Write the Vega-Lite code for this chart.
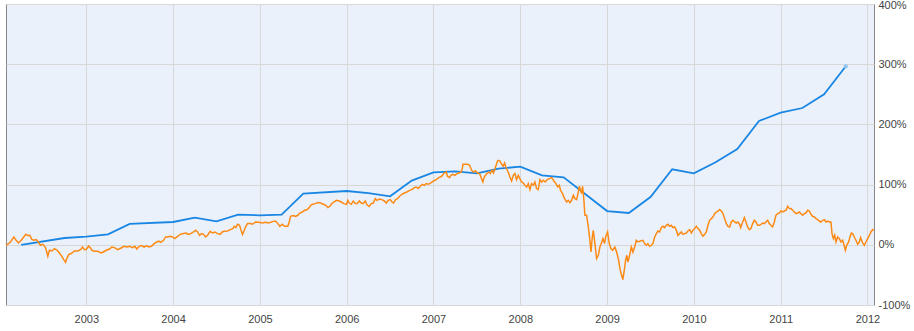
{
  "$schema": "https://vega.github.io/schema/vega-lite/v6.json",
  "width": 868,
  "height": 301,
  "autosize": {"type": "none"},
  "padding": {"left": 6, "top": 4, "right": 40, "bottom": 26},
  "background": "white",
  "config": {
    "view": {"stroke": "#888888", "strokeWidth": 1, "fill": "#eaf1fb"},
    "axis": {"labelFont": "Liberation Sans", "labelFontSize": 11, "labelColor": "#444444", "gridColor": "#d8d8d8", "gridWidth": 1, "domain": false, "ticks": false, "title": null, "labelFlush": false, "labelOverlap": false, "labelBound": false}
  },
  "datasets": {
    "portfolio": [
      {"year": 2002.25, "value": 0}, {"year": 2002.75, "value": 11.3}, {"year": 2003.0, "value": 13.6}, {"year": 2003.25, "value": 17.4}, {"year": 2003.5, "value": 34.6}, {"year": 2004.0, "value": 37.9}, {"year": 2004.25, "value": 45.2}, {"year": 2004.5, "value": 39.0}, {"year": 2004.75, "value": 50.2}, {"year": 2005.0, "value": 49.0}, {"year": 2005.25, "value": 50.2}, {"year": 2005.5, "value": 85.0}, {"year": 2006.0, "value": 89.4}, {"year": 2006.25, "value": 86.0}, {"year": 2006.5, "value": 80.6}, {"year": 2006.75, "value": 106.6}, {"year": 2007.0, "value": 120.4}, {"year": 2007.25, "value": 122.1}, {"year": 2007.5, "value": 118.8}, {"year": 2007.75, "value": 126.6}, {"year": 2008.0, "value": 129.9}, {"year": 2008.25, "value": 115.4}, {"year": 2008.5, "value": 112.1}, {"year": 2009.0, "value": 56.1}, {"year": 2009.25, "value": 52.8}, {"year": 2009.5, "value": 79.4}, {"year": 2009.75, "value": 125.4}, {"year": 2010.0, "value": 118.8}, {"year": 2010.25, "value": 137.0}, {"year": 2010.5, "value": 159.1}, {"year": 2010.75, "value": 205.6}, {"year": 2011.0, "value": 219.6}, {"year": 2011.25, "value": 227.2}, {"year": 2011.5, "value": 250.0}, {"year": 2011.75, "value": 296.5}
    ],
    "lastpoint": [{"year": 2011.75, "value": 296.5}],
    "index": [
      {"year":2002.075,"value":-0.8},{"year":2002.089,"value":0.3},{"year":2002.127,"value":4.7},{"year":2002.165,"value":13.0},{"year":2002.192,"value":7.5},{"year":2002.219,"value":3.0},{"year":2002.250,"value":7.5},{"year":2002.280,"value":13.0},{"year":2002.303,"value":17.4},{"year":2002.326,"value":15.3},{"year":2002.349,"value":15.8},{"year":2002.372,"value":9.1},{"year":2002.395,"value":7.5},{"year":2002.423,"value":8.6},{"year":2002.441,"value":5.8},{"year":2002.472,"value":-0.8},{"year":2002.499,"value":0.8},{"year":2002.527,"value":-3.7},{"year":2002.545,"value":-12.0},{"year":2002.557,"value":-19.1},{"year":2002.576,"value":-9.1},{"year":2002.603,"value":-10.3},{"year":2002.634,"value":-6.3},{"year":2002.665,"value":-9.1},{"year":2002.691,"value":-13.6},{"year":2002.718,"value":-19.1},{"year":2002.741,"value":-24.6},{"year":2002.761,"value":-29.1},{"year":2002.780,"value":-21.3},{"year":2002.799,"value":-15.8},{"year":2002.826,"value":-14.6},{"year":2002.864,"value":-10.3},{"year":2002.902,"value":-10.3},{"year":2002.933,"value":-8.0},{"year":2002.956,"value":-3.7},{"year":2002.979,"value":-8.0},{"year":2003.002,"value":-7.5},{"year":2003.026,"value":-2.0},{"year":2003.049,"value":-5.3},{"year":2003.064,"value":-9.1},{"year":2003.095,"value":-10.8},{"year":2003.133,"value":-10.8},{"year":2003.172,"value":-13.6},{"year":2003.195,"value":-12.0},{"year":2003.230,"value":-9.1},{"year":2003.268,"value":-7.0},{"year":2003.294,"value":-3.7},{"year":2003.325,"value":-4.7},{"year":2003.363,"value":-8.0},{"year":2003.402,"value":-5.3},{"year":2003.432,"value":-2.5},{"year":2003.472,"value":-3.7},{"year":2003.498,"value":-2.5},
      {"year":2003.533,"value":-4.7},{"year":2003.559,"value":-2.5},{"year":2003.582,"value":-7.0},{"year":2003.610,"value":-2.5},{"year":2003.636,"value":-1.3},{"year":2003.667,"value":-3.7},{"year":2003.690,"value":-1.3},{"year":2003.720,"value":-3.7},{"year":2003.751,"value":-2.5},{"year":2003.783,"value":2.0},{"year":2003.813,"value":4.7},{"year":2003.836,"value":6.3},{"year":2003.859,"value":4.2},{"year":2003.890,"value":7.5},{"year":2003.913,"value":13.0},{"year":2003.936,"value":13.0},{"year":2003.967,"value":14.1},{"year":2003.993,"value":13.0},{"year":2004.020,"value":10.3},{"year":2004.051,"value":14.1},{"year":2004.082,"value":17.4},{"year":2004.120,"value":18.6},{"year":2004.151,"value":19.6},{"year":2004.174,"value":17.4},{"year":2004.204,"value":18.6},{"year":2004.235,"value":21.3},{"year":2004.259,"value":24.1},{"year":2004.282,"value":21.3},{"year":2004.305,"value":15.8},{"year":2004.328,"value":18.6},{"year":2004.351,"value":17.4},{"year":2004.374,"value":13.0},{"year":2004.397,"value":15.8},{"year":2004.428,"value":22.4},{"year":2004.454,"value":19.6},{"year":2004.481,"value":21.3},{"year":2004.512,"value":18.6},{"year":2004.543,"value":17.4},{"year":2004.566,"value":21.3},{"year":2004.589,"value":22.4},{"year":2004.627,"value":22.9},{"year":2004.658,"value":25.2},{"year":2004.688,"value":26.9},{"year":2004.704,"value":30.7},{"year":2004.723,"value":28.6},{"year":2004.742,"value":34.1},{"year":2004.766,"value":32.4},{"year":2004.781,"value":25.2},{"year":2004.800,"value":17.4},{"year":2004.820,"value":24.1},{"year":2004.838,"value":30.7},{"year":2004.858,"value":35.2},{"year":2004.889,"value":35.2},{"year":2004.915,"value":34.1},
      {"year":2004.950,"value":37.9},{"year":2004.988,"value":37.4},{"year":2005.027,"value":36.2},{"year":2005.065,"value":37.4},{"year":2005.103,"value":36.2},{"year":2005.142,"value":38.5},{"year":2005.180,"value":39.5},{"year":2005.207,"value":35.2},{"year":2005.230,"value":30.7},{"year":2005.258,"value":34.1},{"year":2005.284,"value":30.7},{"year":2005.322,"value":30.7},{"year":2005.338,"value":37.9},{"year":2005.353,"value":47.3},{"year":2005.384,"value":48.5},{"year":2005.411,"value":47.3},{"year":2005.437,"value":49.0},{"year":2005.460,"value":52.8},{"year":2005.488,"value":54.5},{"year":2005.515,"value":57.3},{"year":2005.546,"value":58.5},{"year":2005.569,"value":61.8},{"year":2005.584,"value":65.6},{"year":2005.607,"value":67.3},{"year":2005.638,"value":68.4},{"year":2005.668,"value":70.1},{"year":2005.699,"value":69.4},{"year":2005.730,"value":67.3},{"year":2005.760,"value":65.6},{"year":2005.783,"value":61.8},{"year":2005.806,"value":64.0},{"year":2005.829,"value":68.4},{"year":2005.852,"value":71.1},{"year":2005.883,"value":73.9},{"year":2005.914,"value":72.8},{"year":2005.937,"value":71.1},{"year":2005.967,"value":68.4},{"year":2005.998,"value":67.3},{"year":2006.013,"value":73.9},{"year":2006.030,"value":69.4},{"year":2006.053,"value":67.3},{"year":2006.076,"value":72.8},{"year":2006.099,"value":68.4},{"year":2006.122,"value":68.4},{"year":2006.145,"value":72.8},{"year":2006.168,"value":69.4},{"year":2006.191,"value":68.4},{"year":2006.214,"value":72.8},{"year":2006.237,"value":65.6},{"year":2006.260,"value":64.0},{"year":2006.283,"value":68.4},{"year":2006.306,"value":69.4},
      {"year":2006.329,"value":76.7},{"year":2006.348,"value":73.9},{"year":2006.379,"value":76.1},{"year":2006.405,"value":75.1},{"year":2006.433,"value":72.8},{"year":2006.456,"value":69.4},{"year":2006.479,"value":73.9},{"year":2006.502,"value":75.1},{"year":2006.521,"value":71.1},{"year":2006.540,"value":69.4},{"year":2006.563,"value":75.1},{"year":2006.586,"value":76.7},{"year":2006.609,"value":80.6},{"year":2006.636,"value":83.9},{"year":2006.663,"value":86.0},{"year":2006.693,"value":87.7},{"year":2006.724,"value":90.5},{"year":2006.751,"value":91.7},{"year":2006.779,"value":95.0},{"year":2006.802,"value":96.0},{"year":2006.825,"value":93.4},{"year":2006.848,"value":97.2},{"year":2006.871,"value":100.5},{"year":2006.894,"value":98.8},{"year":2006.917,"value":101.7},{"year":2006.943,"value":100.5},{"year":2006.970,"value":102.7},{"year":2007.001,"value":106.0},{"year":2007.032,"value":108.3},{"year":2007.062,"value":111.6},{"year":2007.093,"value":113.8},{"year":2007.124,"value":119.3},{"year":2007.147,"value":120.9},{"year":2007.162,"value":113.8},{"year":2007.185,"value":111.6},{"year":2007.200,"value":115.4},{"year":2007.223,"value":117.1},{"year":2007.246,"value":115.4},{"year":2007.270,"value":118.3},{"year":2007.293,"value":119.3},{"year":2007.316,"value":120.4},{"year":2007.332,"value":126.6},{"year":2007.339,"value":133.7},{"year":2007.366,"value":133.7},{"year":2007.393,"value":133.7},{"year":2007.416,"value":132.1},{"year":2007.439,"value":123.8},{"year":2007.462,"value":120.9},{"year":2007.485,"value":122.6},{"year":2007.508,"value":119.3},{"year":2007.531,"value":118.3},{"year":2007.546,"value":112.6},{"year":2007.569,"value":104.3},{"year":2007.585,"value":112.6},{"year":2007.608,"value":117.1},{"year":2007.635,"value":120.9},{"year":2007.654,"value":118.3},{"year":2007.673,"value":123.8},{"year":2007.692,"value":119.3},{"year":2007.715,"value":129.2},{"year":2007.738,"value":139.2},
      {"year":2007.747,"value":140.4},{"year":2007.765,"value":139.2},{"year":2007.785,"value":133.7},{"year":2007.804,"value":130.4},{"year":2007.819,"value":135.9},{"year":2007.834,"value":129.2},{"year":2007.850,"value":123.8},{"year":2007.865,"value":119.3},{"year":2007.880,"value":112.6},{"year":2007.900,"value":106.0},{"year":2007.919,"value":115.4},{"year":2007.938,"value":118.3},{"year":2007.957,"value":108.3},{"year":2007.977,"value":115.4},{"year":2007.995,"value":110.0},{"year":2008.015,"value":104.3},{"year":2008.035,"value":102.7},{"year":2008.053,"value":98.8},{"year":2008.073,"value":96.0},{"year":2008.092,"value":101.7},{"year":2008.111,"value":91.7},{"year":2008.130,"value":101.7},{"year":2008.150,"value":98.8},{"year":2008.168,"value":104.3},{"year":2008.188,"value":93.4},{"year":2008.207,"value":91.7},{"year":2008.226,"value":108.3},{"year":2008.245,"value":104.3},{"year":2008.265,"value":107.1},{"year":2008.288,"value":104.3},{"year":2008.311,"value":108.3},{"year":2008.334,"value":110.0},{"year":2008.361,"value":111.6},{"year":2008.387,"value":106.0},{"year":2008.410,"value":101.7},{"year":2008.433,"value":96.0},{"year":2008.450,"value":98.8},{"year":2008.464,"value":90.5},{"year":2008.487,"value":85.0},{"year":2008.510,"value":76.7},{"year":2008.534,"value":71.1},{"year":2008.553,"value":73.9},{"year":2008.572,"value":70.1},{"year":2008.591,"value":73.9},{"year":2008.611,"value":82.2},{"year":2008.629,"value":76.7},{"year":2008.649,"value":75.1},{"year":2008.668,"value":87.7},{"year":2008.680,"value":97.2},{"year":2008.695,"value":90.5},{"year":2008.706,"value":85.0},{"year":2008.718,"value":97.2},{"year":2008.733,"value":73.9},{"year":2008.744,"value":49.0},{"year":2008.764,"value":49.0},{"year":2008.784,"value":29.6},{"year":2008.802,"value":7.5},{"year":2008.814,"value":-12.0},{"year":2008.830,"value":13.0},{"year":2008.841,"value":24.1},{"year":2008.860,"value":2.0},{"year":2008.879,"value":-22.9},{"year":2008.899,"value":-17.4},{"year":2008.917,"value":-3.7},{"year":2008.933,"value":2.0},{"year":2008.952,"value":10.3},{"year":2008.971,"value":2.0},{"year":2008.983,"value":13.0},{"year":2009.006,"value":21.3},{"year":2009.025,"value":2.0},{"year":2009.044,"value":-6.3},{"year":2009.064,"value":-9.1},{"year":2009.090,"value":-3.7},{"year":2009.110,"value":-12.0},{"year":2009.133,"value":-25.7},{"year":2009.148,"value":-39.5},{"year":2009.167,"value":-50.7},
      {"year":2009.182,"value":-57.8},{"year":2009.198,"value":-42.4},{"year":2009.213,"value":-25.7},{"year":2009.228,"value":-17.4},{"year":2009.240,"value":-28.6},{"year":2009.260,"value":-17.4},{"year":2009.279,"value":-3.7},{"year":2009.298,"value":-12.0},{"year":2009.317,"value":-3.7},{"year":2009.337,"value":7.5},{"year":2009.355,"value":4.7},{"year":2009.383,"value":6.3},{"year":2009.413,"value":7.5},{"year":2009.432,"value":2.0},{"year":2009.452,"value":-0.8},{"year":2009.470,"value":2.0},{"year":2009.490,"value":-2.5},{"year":2009.510,"value":-0.8},{"year":2009.528,"value":2.0},{"year":2009.548,"value":13.0},{"year":2009.567,"value":18.6},{"year":2009.586,"value":22.9},{"year":2009.605,"value":21.3},{"year":2009.625,"value":28.6},{"year":2009.643,"value":30.7},{"year":2009.663,"value":28.6},{"year":2009.682,"value":32.4},{"year":2009.701,"value":34.1},{"year":2009.720,"value":30.7},{"year":2009.740,"value":32.4},{"year":2009.758,"value":28.6},{"year":2009.778,"value":29.6},{"year":2009.798,"value":24.1},{"year":2009.816,"value":15.8},{"year":2009.836,"value":18.6},{"year":2009.855,"value":21.3},{"year":2009.874,"value":17.4},{"year":2009.893,"value":18.6},{"year":2009.913,"value":19.6},{"year":2009.931,"value":22.9},{"year":2009.951,"value":25.2},{"year":2009.971,"value":19.6},{"year":2009.989,"value":24.1},{"year":2010.009,"value":26.9},{"year":2010.028,"value":30.7},{"year":2010.047,"value":26.9},{"year":2010.066,"value":24.1},{"year":2010.086,"value":18.6},{"year":2010.104,"value":14.1},{"year":2010.124,"value":17.4},{"year":2010.143,"value":21.3},{"year":2010.162,"value":32.4},{"year":2010.181,"value":40.7},{"year":2010.201,"value":43.5},{"year":2010.219,"value":46.2},{"year":2010.239,"value":51.8},{"year":2010.259,"value":54.5},{"year":2010.277,"value":56.1},{"year":2010.297,"value":58.5},{"year":2010.316,"value":56.1},{"year":2010.335,"value":51.8},{"year":2010.354,"value":43.5},{"year":2010.374,"value":35.2},{"year":2010.392,"value":30.7},{"year":2010.412,"value":29.6},{"year":2010.431,"value":37.9},{"year":2010.450,"value":40.7},{"year":2010.469,"value":37.9},{"year":2010.489,"value":36.2},{"year":2010.508,"value":37.9},{"year":2010.527,"value":34.1},{"year":2010.539,"value":28.6},{"year":2010.558,"value":36.2},
      {"year":2010.581,"value":45.2},{"year":2010.600,"value":37.9},{"year":2010.619,"value":29.6},{"year":2010.639,"value":25.2},{"year":2010.657,"value":26.9},{"year":2010.677,"value":35.2},{"year":2010.696,"value":40.7},{"year":2010.715,"value":37.9},{"year":2010.734,"value":32.4},{"year":2010.754,"value":32.4},{"year":2010.773,"value":34.1},{"year":2010.792,"value":36.2},{"year":2010.812,"value":35.2},{"year":2010.830,"value":37.9},{"year":2010.850,"value":40.7},{"year":2010.869,"value":35.2},{"year":2010.888,"value":32.4},{"year":2010.907,"value":29.6},{"year":2010.927,"value":37.9},{"year":2010.945,"value":49.0},{"year":2010.965,"value":51.8},{"year":2010.985,"value":52.8},{"year":2011.003,"value":56.1},{"year":2011.023,"value":54.5},{"year":2011.042,"value":56.1},{"year":2011.061,"value":57.3},{"year":2011.080,"value":64.0},{"year":2011.100,"value":60.1},{"year":2011.118,"value":60.1},{"year":2011.138,"value":57.3},{"year":2011.157,"value":54.5},{"year":2011.176,"value":51.8},{"year":2011.195,"value":52.8},{"year":2011.215,"value":54.5},{"year":2011.233,"value":51.8},{"year":2011.253,"value":49.0},{"year":2011.273,"value":51.8},{"year":2011.291,"value":52.8},{"year":2011.311,"value":57.3},{"year":2011.330,"value":56.1},{"year":2011.349,"value":50.7},{"year":2011.368,"value":47.3},{"year":2011.388,"value":46.2},{"year":2011.407,"value":43.5},{"year":2011.426,"value":41.9},{"year":2011.445,"value":39.5},{"year":2011.464,"value":37.9},{"year":2011.484,"value":40.7},{"year":2011.503,"value":41.9},{"year":2011.522,"value":37.9},{"year":2011.541,"value":39.5},{"year":2011.561,"value":37.9},{"year":2011.579,"value":37.9},{"year":2011.591,"value":18.6},{"year":2011.607,"value":10.3},{"year":2011.622,"value":15.8},{"year":2011.637,"value":4.7},{"year":2011.656,"value":13.0},{"year":2011.676,"value":10.3},{"year":2011.694,"value":4.7},{"year":2011.714,"value":7.5},{"year":2011.733,"value":-2.5},{"year":2011.745,"value":-9.1},{"year":2011.760,"value":-0.8},{"year":2011.783,"value":4.7},{"year":2011.798,"value":13.0},{"year":2011.814,"value":19.6},{"year":2011.829,"value":18.6},{"year":2011.848,"value":13.0},{"year":2011.867,"value":7.5},{"year":2011.887,"value":0.8},{"year":2011.906,"value":4.7},{"year":2011.921,"value":12.0},{"year":2011.944,"value":3.0},{"year":2011.964,"value":-0.8},{"year":2011.982,"value":4.7},{"year":2012.002,"value":10.3},{"year":2012.022,"value":15.8},{"year":2012.040,"value":21.3},{"year":2012.060,"value":25.2},{"year":2012.071,"value":24.1}
    ]
  },
  "encoding": {
    "x": {"field": "year", "type": "quantitative", "scale": {"domain": [2002.075, 2012.075], "nice": false, "zero": false},
      "axis": {"values": [2003, 2004, 2005, 2006, 2007, 2008, 2009, 2010, 2011, 2012], "format": "d", "labelPadding": 8, "grid": true}},
    "y": {"field": "value", "type": "quantitative", "scale": {"domain": [-100, 400], "nice": false, "zero": false},
      "axis": {"orient": "right", "values": [-100, 0, 100, 200, 300, 400], "labelExpr": "datum.value + '%'", "labelPadding": 4, "grid": true,
        "labelOffset": {"condition": {"test": "datum.value == 400", "value": 1.5}, "value": 0}}}
  },
  "layer": [
    {"data": {"name": "portfolio"}, "mark": {"type": "line", "color": "#1a86e4", "strokeWidth": 1.8}},
    {"data": {"name": "index"}, "mark": {"type": "line", "color": "#fd8a15", "strokeWidth": 1.5}},
    {"data": {"name": "lastpoint"}, "mark": {"type": "point", "filled": true, "color": "#8ec5f3", "size": 18, "opacity": 1}}
  ]
}
